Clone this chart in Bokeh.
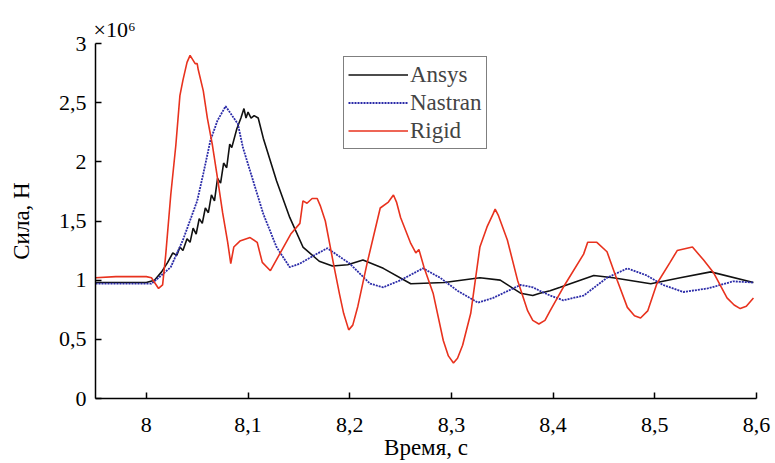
from bokeh.plotting import figure
from bokeh.models import Range1d, FixedTicker, Legend, LegendItem
from bokeh.embed import file_html
from bokeh.resources import INLINE

# ---- data (time in s, force in 1e6 N) ----
ansys_t = [7.95, 8.000, 8.008, 8.015, 8.021, 8.026, 8.030, 8.033, 8.036, 8.040, 8.043,
           8.046, 8.049, 8.052, 8.055, 8.058, 8.061, 8.064, 8.067, 8.070, 8.073, 8.076,
           8.079, 8.082, 8.084, 8.089, 8.093, 8.096, 8.098, 8.100, 8.103, 8.106, 8.110,
           8.115, 8.128, 8.141, 8.154, 8.170, 8.183, 8.198, 8.213, 8.233, 8.260, 8.293,
           8.328, 8.348, 8.368, 8.380, 8.387, 8.397, 8.407, 8.440, 8.459, 8.496, 8.525,
           8.555, 8.597]
ansys_f = [0.98, 0.98, 1.00, 1.07, 1.15, 1.23, 1.21, 1.28, 1.25, 1.35, 1.32,
           1.44, 1.39, 1.52, 1.48, 1.61, 1.57, 1.72, 1.67, 1.86, 1.82, 1.99,
           1.95, 2.15, 2.12, 2.28, 2.37, 2.45, 2.37, 2.42, 2.37, 2.39, 2.37,
           2.20, 1.84, 1.53, 1.28, 1.16, 1.12, 1.13, 1.17, 1.10, 0.97, 0.98,
           1.02, 1.00, 0.89, 0.87, 0.89, 0.91, 0.94, 1.04, 1.02, 0.97, 1.02,
           1.07, 0.98]

nastran_t = [7.95, 8.005, 8.012, 8.024, 8.036, 8.050, 8.056, 8.063, 8.070, 8.078, 8.090,
             8.095, 8.105, 8.115, 8.128, 8.141, 8.151, 8.165, 8.178, 8.200, 8.220, 8.233,
             8.250, 8.272, 8.289, 8.306, 8.326, 8.341, 8.368, 8.380, 8.387, 8.397, 8.410,
             8.430, 8.453, 8.473, 8.492, 8.508, 8.528, 8.552, 8.577, 8.597]
nastran_f = [0.97, 0.97, 1.02, 1.11, 1.34, 1.67, 1.90, 2.18, 2.35, 2.47, 2.32,
             2.12, 1.84, 1.56, 1.28, 1.11, 1.14, 1.21, 1.27, 1.14, 0.97, 0.94,
             1.00, 1.10, 1.02, 0.91, 0.81, 0.85, 0.96, 0.94, 0.91, 0.87, 0.83,
             0.87, 1.02, 1.10, 1.04, 0.96, 0.90, 0.93, 0.99, 0.98]

rigid_t = [7.95, 7.97, 7.99, 8.000, 8.005, 8.012, 8.016, 8.019, 8.024, 8.029, 8.033,
           8.036, 8.040, 8.043, 8.048, 8.050, 8.051, 8.056, 8.060, 8.065, 8.070, 8.075,
           8.080, 8.083, 8.086, 8.092, 8.102, 8.109, 8.114, 8.122, 8.142, 8.151, 8.154,
           8.158, 8.163, 8.168, 8.171, 8.176, 8.184, 8.190, 8.194, 8.199, 8.203, 8.208,
           8.217, 8.230, 8.238, 8.243, 8.246, 8.250, 8.260, 8.265, 8.268, 8.273, 8.282,
           8.292, 8.297, 8.302, 8.306, 8.311, 8.319, 8.328, 8.335, 8.341, 8.343, 8.346,
           8.355, 8.365, 8.375, 8.380, 8.386, 8.392, 8.397, 8.410, 8.430, 8.434, 8.443,
           8.453, 8.463, 8.473, 8.480, 8.486, 8.493, 8.502, 8.515, 8.522, 8.537, 8.548,
           8.558, 8.571, 8.578, 8.584, 8.590, 8.597]
rigid_f = [1.02, 1.03, 1.03, 1.03, 1.02, 0.93, 0.96, 1.21, 1.72, 2.14, 2.56,
           2.69, 2.84, 2.90, 2.83, 2.83, 2.78, 2.60, 2.37, 2.14, 1.86, 1.57,
           1.32, 1.14, 1.28, 1.33, 1.36, 1.32, 1.15, 1.08, 1.39, 1.48, 1.67,
           1.65, 1.69, 1.69, 1.63, 1.50, 1.14, 0.88, 0.72, 0.58, 0.62, 0.78,
           1.14, 1.61, 1.66, 1.72, 1.66, 1.53, 1.31, 1.23, 1.26, 1.11, 0.89,
           0.49, 0.36, 0.30, 0.34, 0.45, 0.72, 1.28, 1.45, 1.56, 1.60, 1.55,
           1.34, 1.00, 0.74, 0.66, 0.63, 0.66, 0.74, 0.94, 1.22, 1.32, 1.32,
           1.24, 1.00, 0.77, 0.70, 0.68, 0.74, 0.97, 1.15, 1.25, 1.28, 1.17,
           1.06, 0.85, 0.79, 0.76, 0.78, 0.85]

series_names = ["Ansys", "Nastran", "Rigid"]

x_ticks = [8.0, 8.1, 8.2, 8.3, 8.4, 8.5, 8.6]
x_tick_labels = ["8", "8,1", "8,2", "8,3", "8,4", "8,5", "8,6"]
y_ticks = [0, 0.5, 1, 1.5, 2, 2.5, 3]
y_tick_labels = ["0", "0,5", "1", "1,5", "2", "2,5", "3"]

FONT = "'Liberation Serif', 'Times New Roman', serif"

p = figure(width=775, height=463, output_backend="svg", toolbar_location=None,
           x_range=Range1d(7.95, 8.6), y_range=Range1d(0, 3),
           min_border_left=95, min_border_right=19, min_border_top=43, min_border_bottom=65,
           title="×10⁶")
p.outline_line_color = None
p.xgrid.visible = False
p.ygrid.visible = False
p.background_fill_color = "white"
p.border_fill_color = "white"

p.title.align = "left"
p.title.offset = -2
p.title.standoff = 4
p.title.text_font = FONT
p.title.text_font_size = "22px"
p.title.text_font_style = "normal"
p.title.text_color = "black"

for ax, ticks, labels in ((p.xaxis[0], x_ticks, x_tick_labels), (p.yaxis[0], y_ticks, y_tick_labels)):
    ax.ticker = FixedTicker(ticks=ticks)
    ax.major_label_overrides = {t: l for t, l in zip(ticks, labels)}
    ax.major_tick_in = 6
    ax.major_tick_out = 0
    ax.minor_tick_in = 0
    ax.minor_tick_out = 0
    ax.axis_line_width = 1.5
    ax.major_tick_line_width = 1.5
    ax.axis_line_color = "black"
    ax.major_tick_line_color = "black"
    ax.major_label_text_font = FONT
    ax.major_label_text_font_size = "22px"
    ax.major_label_text_color = "black"
    ax.axis_label_text_font = FONT
    ax.axis_label_text_font_size = "23px"
    ax.axis_label_text_font_style = "normal"
    ax.axis_label_text_color = "black"

p.xaxis.major_label_standoff = 19
p.xaxis.axis_label = "Время, с"
p.xaxis.axis_label_standoff = 0
p.yaxis.major_label_standoff = 9
p.yaxis.axis_label = "Сила, Н"
p.yaxis.axis_label_standoff = 22

r1 = p.line(ansys_t, ansys_f, line_color="#111111", line_width=1.6)
r2 = p.line(nastran_t, nastran_f, line_color="#2b2ba8", line_width=1.8, line_dash="2 1")
r3 = p.line(rigid_t, rigid_f, line_color="#e8321e", line_width=1.6)

legend = Legend(items=[LegendItem(label=n, renderers=[r]) for n, r in zip(series_names, [r1, r2, r3])],
                location=(248, 249), orientation="vertical",
                label_text_font=FONT, label_text_font_size="23px",
                glyph_width=60, glyph_height=27, label_height=27, label_standoff=2,
                spacing=1, padding=4, margin=0,
                border_line_color="black", border_line_width=1.5,
                background_fill_color="white", background_fill_alpha=1.0)
p.add_layout(legend, "center")

open("out.html", "w").write(file_html(p, INLINE))
